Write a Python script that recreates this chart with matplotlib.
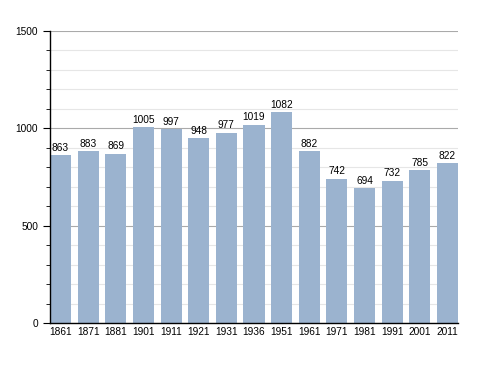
import matplotlib
matplotlib.use("Agg")
import matplotlib.pyplot as plt
from matplotlib.ticker import MultipleLocator

years = ["1861", "1871", "1881", "1901", "1911", "1921", "1931", "1936",
         "1951", "1961", "1971", "1981", "1991", "2001", "2011"]
population = [863, 883, 869, 1005, 997, 948, 977, 1019, 1082, 882, 742, 694, 732, 785, 822]

plt.rcParams['font.family'] = ['Liberation Sans', 'DejaVu Sans']
fig = plt.figure(figsize=(4.88, 3.73), dpi=100)
ax = fig.add_axes([50/488, 50/373, 408/488, 292/373])

x = range(len(years))
ax.bar(x, population, width=0.76, color="#9bb3cf", zorder=2)
for xi, v in zip(x, population):
    ax.text(xi, v + 12, str(v), ha="center", va="bottom", fontsize=7.3, color="black", zorder=3)

ax.set_xlim(-0.38, len(years) - 1 + 0.38)
ax.set_ylim(0, 1500)
ax.set_xticks(list(x))
ax.set_xticklabels(years, fontsize=7.3)
ax.yaxis.set_major_locator(MultipleLocator(500))
ax.yaxis.set_minor_locator(MultipleLocator(100))
ax.tick_params(axis='y', which='major', length=5, labelsize=7.3, direction='out')
ax.tick_params(axis='y', which='minor', length=3, direction='out')
ax.tick_params(axis='x', length=0, labelsize=7.3, pad=3)
ax.grid(axis='y', which='major', color="#aaaaaa", linewidth=0.8, zorder=0)
ax.grid(axis='y', which='minor', color="#e6e6e6", linewidth=0.8, zorder=0)
ax.set_axisbelow(True)
for s in ['top', 'right']:
    ax.spines[s].set_visible(False)
ax.spines['left'].set_linewidth(1.0)
ax.spines['bottom'].set_linewidth(1.0)

fig.savefig("out.png", dpi=100)
